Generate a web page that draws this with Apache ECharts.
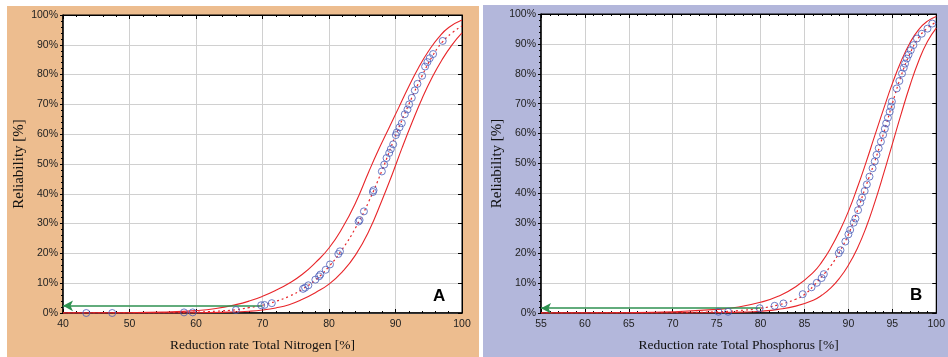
<!DOCTYPE html>
<html><head><meta charset="utf-8">
<script src="https://cdn.jsdelivr.net/npm/echarts@6/dist/echarts.min.js"></script>
<style>html,body{margin:0;padding:0;background:#fff}#c{width:948px;height:357px}</style>
</head><body><div id="c"></div>
<script>
// Panel A: Total Nitrogen
const aPoints = [[43.5,0],[47.4,0],[58.2,0.2],[59.5,0.2],[66,1.0],[69.8,2.6],[70.3,2.7],[71.4,3.3],[76.1,8.1],[76.4,8.5],[76.9,9.3],[77.95,11.2],[78.5,12.3],[78.7,12.9],[79.5,14.5],[80.15,16.3],[81.4,19.8],[81.65,20.7],[84.45,30.7],[84.6,31.2],[85.25,34.1],[86.6,40.6],[86.7,41.2],[87.95,47.5],[88.3,49.8],[88.65,52],[89.05,53.7],[89.3,55],[89.65,56.6],[90.05,59.7],[90.2,60.6],[90.6,62.3],[90.95,63.7],[91.4,66.7],[91.8,68.3],[92.05,70],[92.45,72.2],[92.9,74.7],[93.3,76.9],[94.0,79.6],[94.45,82.7],[94.8,84.2],[95.15,85.5],[95.65,86.9],[97.1,91.3]];
const aMedian = [[40,0],[50,0.02],[55,0.08],[60,0.3],[63,0.6],[66,1.1],[68,1.8],[70,2.6],[72,3.9],[74,5.6],[76,8],[78,11.2],[80,15.6],[82,21.4],[84,28.6],[86,37.5],[88,48],[90,59.5],[92,70],[94,79.6],[95.5,86],[97,90.8],[98.5,94],[100,96.3]];
const aUpper = [[40,0],[50,0.1],[55,0.3],[60,0.8],[63,1.5],[66,2.8],[68,4],[70,5.6],[72,7.6],[74,10],[76,13],[78,17],[80,21.8],[82,28.5],[84,37],[86,47.5],[87.5,55],[89,62],[90.5,69],[92,76],[93.5,82.5],[95,88],[96.5,92.5],[98,95.8],[100,98.3]];
const aLower = [[40,0],[55,0],[60,0.05],[65,0.3],[68,0.6],[70,1.0],[72,1.7],[74,2.8],[76,4.6],[78,6.9],[80,9.7],[82,13.8],[84,19.5],[86,27.5],[88,38],[89.5,46.5],[91,55.5],[92.5,64],[94,72],[95.5,79],[97,85],[98.5,90],[100,94]];
const aArrow = {from:[70,2.4], to:[40,2.4]};

// Panel B: Total Phosphorus
const bPoints = [[75.2,0.4],[76.3,0.4],[79.9,1.6],[81.6,2.4],[82.6,3.2],[84.8,6.3],[85.8,8.6],[86.4,10.1],[86.95,11.7],[87.2,13],[88.9,20],[89.1,21],[89.65,23.9],[90.0,26.3],[90.2,27.8],[90.6,30.2],[90.8,31.6],[91.1,34.4],[91.35,36.9],[91.55,38.6],[91.85,40.8],[92.1,43],[92.4,45.6],[92.75,48.4],[93.0,50.7],[93.2,52.9],[93.45,55.1],[93.7,57.3],[93.95,59.6],[94.15,61.6],[94.3,63.4],[94.5,65.3],[94.7,67.3],[94.85,69],[94.95,70.7],[95.5,75.1],[95.8,77.6],[96.1,80.1],[96.3,82],[96.45,83.4],[96.65,85.1],[96.85,86.4],[97.1,87.9],[97.4,89.6],[97.8,91.8],[98.35,93.4],[99,95.1],[99.55,96.8]];
const bMedian = [[55,0],[65,0.02],[70,0.1],[75,0.4],[77.5,0.8],[80,1.6],[82,2.7],[84,4.6],[85,6.2],[86,9.0],[87,12.3],[88,15.8],[89,20.5],[90,26.3],[91,34],[92,42.5],[93,50.7],[94,60],[95,70],[96,79.3],[97,86.7],[98,92.1],[99,95.3],[100,97.3]];
const bUpper = [[55,0],[65,0.1],[70,0.4],[75,1.2],[77.5,2.0],[80,3.6],[82,5.6],[84,8.8],[86,13.6],[87,17.2],[88,21.8],[89,27.4],[90,34],[91,41.8],[92,50.3],[93,59.3],[94,68.2],[95,76.7],[96,84.2],[97,90.3],[98,94.8],[99,97.6],[100,99.2]];
const bLower = [[55,0],[70,0],[75,0.1],[78,0.3],[80,0.6],[82,1.2],[84,2.3],[86,4.3],[87,6],[88,8.4],[89,11.7],[90,16],[91,21.5],[92,28.5],[93,37],[94,46.5],[95,56.5],[96,66.5],[97,76],[98,84.3],[99,90.8],[100,95.3]];
const bArrow = {from:[80,1.6], to:[55,1.6]};

const xTitles = ['Reduction rate Total Nitrogen [%]','Reduction rate Total Phosphorus [%]'];
const yTitle = 'Reliability [%]';
const panelLabels = ['A','B'];
const xRanges = [{min:40,max:100,interval:10},{min:55,max:100,interval:5}];

const chart = echarts.init(document.getElementById('c'), null, {renderer:'canvas'});
const sans = "'Liberation Sans', Arial, sans-serif";
const serif = "'Liberation Serif', 'Times New Roman', serif";
const red = '#e8262a';
const grids = [
  {left:63, top:15, width:399, height:301},
  {left:541, top:14, width:399, height:300}
];
const xAxes = [], yAxes = [], series = [];
[0,1].forEach(i=>{
  grids[i].show = true; grids[i].backgroundColor = '#fff'; grids[i].borderColor = '#000'; grids[i].borderWidth = 1;
  xAxes.push({gridIndex:i, type:'value', min:xRanges[i].min, max:xRanges[i].max, interval:xRanges[i].interval,
    name:xTitles[i], nameLocation:'middle', nameGap:25, nameTextStyle:{fontFamily:serif, fontSize:13.5, color:'#111'},
    axisLine:{onZero:false, lineStyle:{color:'#000', width:1.5}},
    axisTick:{show:true, inside:true, length:4, lineStyle:{color:'#000'}},
    minorTick:{show:true, splitNumber:5, length:2, lineStyle:{color:'#000'}},
    axisLabel:{fontFamily:sans, fontSize:10.5, color:'#222', margin:6},
    splitLine:{show:true, lineStyle:{color:'#d0d0d0', width:1}}});
  xAxes.push({gridIndex:i, type:'value', position:'top', min:xRanges[i].min, max:xRanges[i].max, interval:xRanges[i].interval,
    axisLine:{onZero:false, lineStyle:{color:'#000', width:1}},
    axisTick:{show:true, inside:true, length:4, lineStyle:{color:'#000'}},
    minorTick:{show:true, splitNumber:5, length:2, lineStyle:{color:'#000'}},
    axisLabel:{show:false}, splitLine:{show:false}});
  yAxes.push({gridIndex:i, type:'value', min:0, max:100, interval:10,
    name:yTitle, nameLocation:'middle', nameGap:36, nameTextStyle:{fontFamily:serif, fontSize:15, color:'#111'},
    axisLine:{onZero:false, lineStyle:{color:'#000', width:1.5}},
    axisTick:{show:true, inside:false, length:3, lineStyle:{color:'#000'}},
    minorTick:{show:true, splitNumber:5, length:2, lineStyle:{color:'#000'}},
    axisLabel:{fontFamily:sans, fontSize:10.5, color:'#222', margin:5, formatter:'{value}%'},
    splitLine:{show:true, lineStyle:{color:'#d0d0d0', width:1}}});
  yAxes.push({gridIndex:i, type:'value', position:'right', min:0, max:100, interval:10,
    axisLine:{onZero:false, lineStyle:{color:'#000', width:1}},
    axisTick:{show:true, inside:true, length:4, lineStyle:{color:'#000'}},
    axisLabel:{show:false}, splitLine:{show:false}});
});
const sets = [
  {pts:aPoints, med:aMedian, up:aUpper, lo:aLower, arrow:aArrow},
  {pts:bPoints, med:bMedian, up:bUpper, lo:bLower, arrow:bArrow}
];
sets.forEach((s,i)=>{
  const xi = i*2, yi = i*2;
  const lineBase = {type:'line', xAxisIndex:xi, yAxisIndex:yi, smooth:0.5, symbol:'none', silent:true};
  series.push(Object.assign({}, lineBase, {data:s.up, lineStyle:{color:red, width:1.1}, z:3}));
  series.push(Object.assign({}, lineBase, {data:s.lo, lineStyle:{color:red, width:1.1}, z:3}));
  series.push(Object.assign({}, lineBase, {data:s.med, lineStyle:{color:red, width:1.2, type:[2,3]}, z:4,
    markLine:{silent:true, symbolSize:[8,10], precision:3, label:{show:false}, lineStyle:{color:'#2e9150', width:1.5, type:'solid'},
      data:[[{coord:s.arrow.from, symbol:'none'},{coord:s.arrow.to, symbol:'arrow'}]]}}));
  series.push({type:'scatter', xAxisIndex:xi, yAxisIndex:yi, data:s.pts, symbol:'circle', symbolSize:7,
    itemStyle:{color:'rgba(255,255,255,0)', borderColor:'#4a5cb8', borderWidth:1}, z:5, silent:true});
});
chart.setOption({
  animation:false,
  graphic:[
    {type:'rect', z:-10, shape:{x:7,y:6,width:472,height:351}, style:{fill:'#edbd8f'}},
    {type:'rect', z:-10, shape:{x:483,y:5,width:465,height:352}, style:{fill:'#b3b7db'}},
    {type:'text', z:10, left:433, top:288, style:{text:panelLabels[0], font:"bold 17px 'Liberation Sans', Arial", fill:'#000'}},
    {type:'text', z:10, left:910, top:287, style:{text:panelLabels[1], font:"bold 17px 'Liberation Sans', Arial", fill:'#000'}}
  ],
  grid:grids, xAxis:xAxes, yAxis:yAxes, series:series
});
</script></body></html>
